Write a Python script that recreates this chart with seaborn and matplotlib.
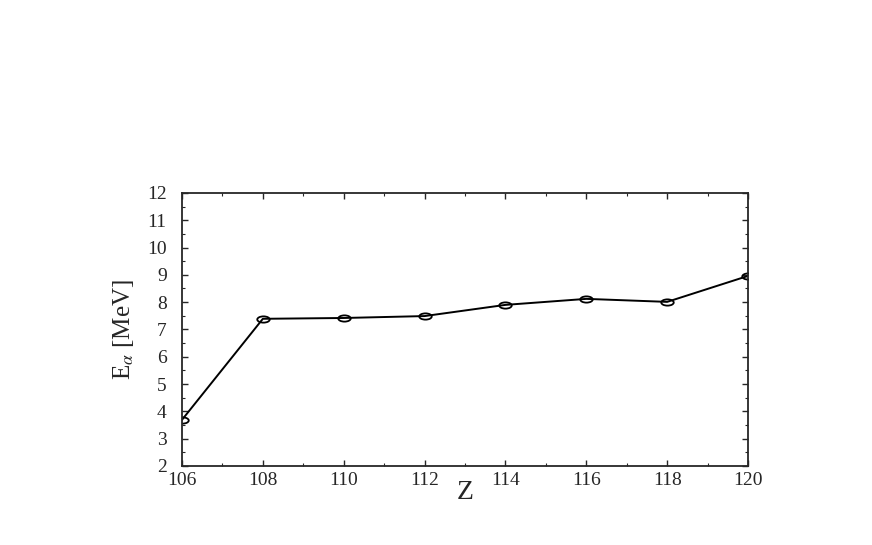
import numpy as np
import pandas as pd
import matplotlib
matplotlib.use("Agg")
import matplotlib.pyplot as plt
from matplotlib.path import Path
from matplotlib.transforms import Affine2D
import seaborn as sns

Z = [106, 108, 110, 112, 114, 116, 118, 120]
E_alpha = [3.69, 7.39, 7.42, 7.49, 7.90, 8.12, 8.01, 8.96]

sns.set_style("ticks")
plt.rcParams['font.family'] = ['Liberation Serif', 'DejaVu Serif']
plt.rcParams['mathtext.fontset'] = 'stix'

df = pd.DataFrame({"Z": Z, "E": E_alpha})

# flattened open circle, like the original
oval = Path.unit_circle().transformed(Affine2D().scale(1.0, 0.5))

fig = plt.figure(figsize=(8.72, 5.45), dpi=100)
ax = fig.add_axes([0.2087, 0.145, 0.6491, 0.501])
sns.lineplot(data=df, x="Z", y="E", ax=ax, color="black", linewidth=1.4,
             marker=oval, markersize=9, markerfacecolor="none",
             markeredgecolor="black", markeredgewidth=1.3)

ax.set_xlim(106, 120)
ax.set_ylim(2, 12)
ax.set_xticks(range(106, 121, 2))
ax.set_yticks(range(2, 13))
ax.set_xticks(range(106, 121), minor=True)
ax.set_yticks(np.arange(2, 12.01, 0.5), minor=True)
ax.tick_params(which="both", direction="in", top=True, right=True, labelsize=14)
ax.tick_params(axis="x", pad=4)
ax.tick_params(axis="y", pad=11)
ax.tick_params(which="major", length=4, width=1)
ax.tick_params(which="minor", length=2, width=0.8)
for s in ax.spines.values():
    s.set_linewidth(1.3)

ax.set_xlabel("Z", fontsize=20, labelpad=-6)
ax.set_ylabel(r"E$_\alpha$ [MeV]", fontsize=18, labelpad=8)

fig.savefig("out.png", dpi=100)
